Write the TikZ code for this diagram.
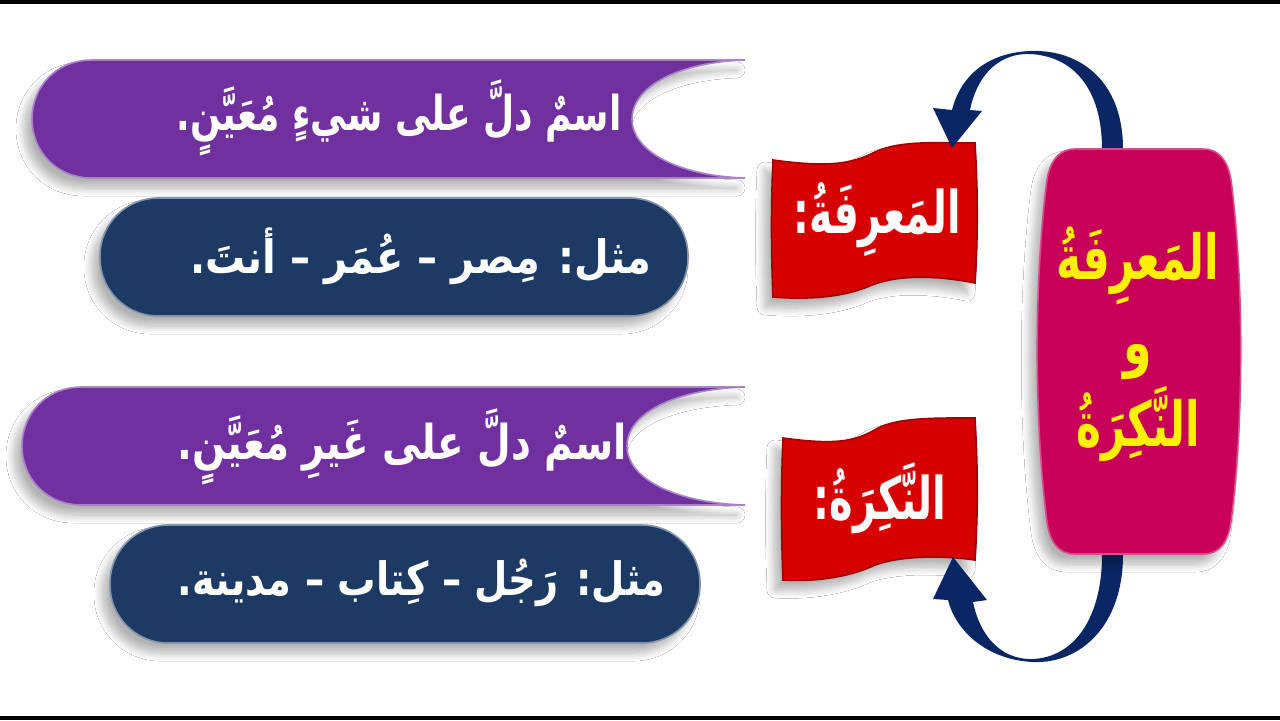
\documentclass[tikz,border=0pt]{standalone}
\usepackage{fontspec}
\usepackage{tikz}
\usetikzlibrary{positioning, calc, shadows.blur}
\newfontfamily\arabicfont[Script=Arabic]{DejaVu Sans}
\TeXXeTstate=1
\newcommand{\artxt}[3][0.95]{\scalebox{#1}[#2]{#3}}
\definecolor{defpurple}{RGB}{112, 48, 160}
\definecolor{exnavy}{RGB}{28, 58, 100}
\definecolor{flagred}{RGB}{215, 0, 0}
\definecolor{termpink}{RGB}{200, 0, 90}
\definecolor{termyellow}{RGB}{255, 240, 0}
\definecolor{arrownavy}{RGB}{10, 38, 100}
\tikzset{
    softshadow/.style={blur shadow={shadow xshift=-4pt, shadow yshift=-5pt, shadow blur radius=4pt, shadow blur steps=10, shadow opacity=30}},
    defpill/.style={fill=defpurple, draw=defpurple!60!white, line width=0.8pt, softshadow},
    expill/.style={rectangle, rounded corners=29pt, fill=exnavy, draw=exnavy!55!white, line width=0.8pt, minimum height=59pt, softshadow},
    flagshape/.style={fill=flagred, draw=flagred!75!black, line width=0.8pt, softshadow},
    termshape/.style={fill=termpink, draw=termpink!70!white, line width=0.8pt, softshadow},
    termbox/.style={rectangle, minimum width=102.5pt, minimum height=202.5pt, inner sep=0pt},
    bentarrow/.style={fill=arrownavy},
    deftext/.style={text=white, inner sep=0pt, font={\arabicfont\bfseries\fontsize{20}{24}\selectfont}},
    flagtext/.style={text=white, inner sep=0pt, font={\arabicfont\bfseries\fontsize{21}{24}\selectfont}},
    termtext/.style={text=termyellow, inner sep=0pt, font={\arabicfont\bfseries\fontsize{23}{26}\selectfont}}
}
\begin{document}
\begin{tikzpicture}[x=0.5pt, y=-0.5pt]
\useasboundingbox (0,0) rectangle (1280,720);
\fill[white] (0,0) rectangle (1280,720);
\fill[black] (0,0) rectangle (1280,4);
\fill[black] (0,716) rectangle (1280,720);

\path[defpill] (745,60) -- (92,60) .. controls (55,60) and (32,88) .. (32,119)
    .. controls (32,150) and (55,178) .. (92,178) -- (745,178)
    .. controls (680,176) and (632,152) .. (632,119) .. controls (632,86) and (680,62) .. (745,60) -- cycle;
\node[deftext, anchor=east] (defTextA) at (622,118) {\artxt[0.9]{1.2}{\beginR اسمٌ دلَّ على شيءٍ مُعَيَّنٍ.\endR}};
\node[expill, minimum width=294pt] (exA) at (394,257) {};
\node[deftext, anchor=east] (exTextA) at (652,256) {\artxt[1]{1.15}{\beginR مثل: مِصر – عُمَر – أنتَ.\endR}};

\path[defpill] (745,387) -- (82,387) .. controls (45,387) and (22,415) .. (22,446)
    .. controls (22,477) and (45,505) .. (82,505) -- (745,505)
    .. controls (676,503) and (627,479) .. (627,446) .. controls (627,413) and (676,389) .. (745,387) -- cycle;
\node[deftext, anchor=east] (defTextB) at (627,447) {\artxt[0.97]{1.2}{\beginR اسمٌ دلَّ على غَيرِ مُعَيَّنٍ.\endR}};
\node[expill, minimum width=295pt] (exB) at (405,584) {};
\node[deftext, anchor=east] (exTextB) at (666,583) {\artxt[0.96]{1.15}{\beginR مثل: رَجُل – كِتاب – مدينة.\endR}};

\path[flagshape] (773,160) .. controls (825,167) and (850,165) .. (875,152) .. controls (900,140) and (940,143) .. (975,143)
    .. controls (978,190) and (978,240) .. (975,283) .. controls (940,276) and (900,274) .. (872,285)
    .. controls (845,297) and (810,300) .. (773,297) .. controls (771,250) and (771,205) .. (773,160) -- cycle;
\node[flagtext] (defA) at (877,220) {\artxt[0.94]{1.4}{\beginR المَعرِفَةُ:\endR}};
\path[flagshape] (783,438) .. controls (835,445) and (855,442) .. (878,428) .. controls (900,417) and (940,418) .. (975,418)
    .. controls (978,470) and (978,515) .. (975,560) .. controls (940,555) and (900,556) .. (875,565)
    .. controls (850,577) and (815,582) .. (783,580) .. controls (781,530) and (781,485) .. (783,438) -- cycle;
\node[flagtext] (defB) at (880,498) {\artxt[0.95]{1.4}{\beginR النَّكِرَةُ:\endR}};

\node[termbox] (term) at (1139,352) {};
\coordinate (archA) at (1030,51);
\coordinate (archB) at (1033,662);
\coordinate (tipA) at ($(defA)+(75,-72)$);
\coordinate (tipB) at ($(defB)+(73,59)$);
\fill[bentarrow] ($(term.north)+(-16,15)$) -- ($(term.north)+(-16,0)$) .. controls +(0,-70) and +(48,-2) .. (archA)
    .. controls +(-45,2) and +(8,-32) .. ($(tipA)+(0,-38)$) -- ($(tipA)+(-19,-40)$) -- (tipA) -- ($(tipA)+(30,-37)$)
    -- ($(tipA)+(18,-38)$) .. controls +(6,-30) and +(-35,-1) .. ($(archA)+(0,3)$)
    .. controls +(42,2) and +(0,-62) .. ($(term.north)+(-37,0)$) -- ($(term.north)+(-37,15)$) -- cycle;
\fill[bentarrow] ($(term.south)+(-16,-15)$) -- ($(term.south)+(-16,0)$) .. controls +(0,70) and +(48,2) .. (archB)
    .. controls +(-45,-2) and +(8,32) .. ($(tipB)+(-5,43)$) -- ($(tipB)+(-20,42)$) -- (tipB) -- ($(tipB)+(34,43)$)
    -- ($(tipB)+(20,45)$) .. controls +(6,30) and +(-35,1) .. ($(archB)+(0,-3)$)
    .. controls +(42,-2) and +(0,62) .. ($(term.south)+(-37,0)$) -- ($(term.south)+(-37,-15)$) -- cycle;

\path[termshape] (1075,149) -- (1203,149) .. controls (1220,149) and (1228,162) .. (1231,180)
    .. controls (1244,280) and (1244,420) .. (1231,522) .. controls (1228,542) and (1220,554) .. (1203,554)
    -- (1075,554) .. controls (1058,554) and (1050,542) .. (1047,522)
    .. controls (1034,420) and (1034,280) .. (1047,180) .. controls (1050,162) and (1058,149) .. (1075,149) -- cycle;
\node[termtext] (termA) at (1138,266) {\artxt[0.92]{1.35}{\beginR المَعرِفَةُ\endR}};
\node[termtext] (termAnd) at (1138,362) {\artxt[1]{1.35}{\beginR و\endR}};
\node[termtext] (termB) at (1138,424) {\artxt[0.92]{1.35}{\beginR النَّكِرَةُ\endR}};
\end{tikzpicture}
\end{document}
